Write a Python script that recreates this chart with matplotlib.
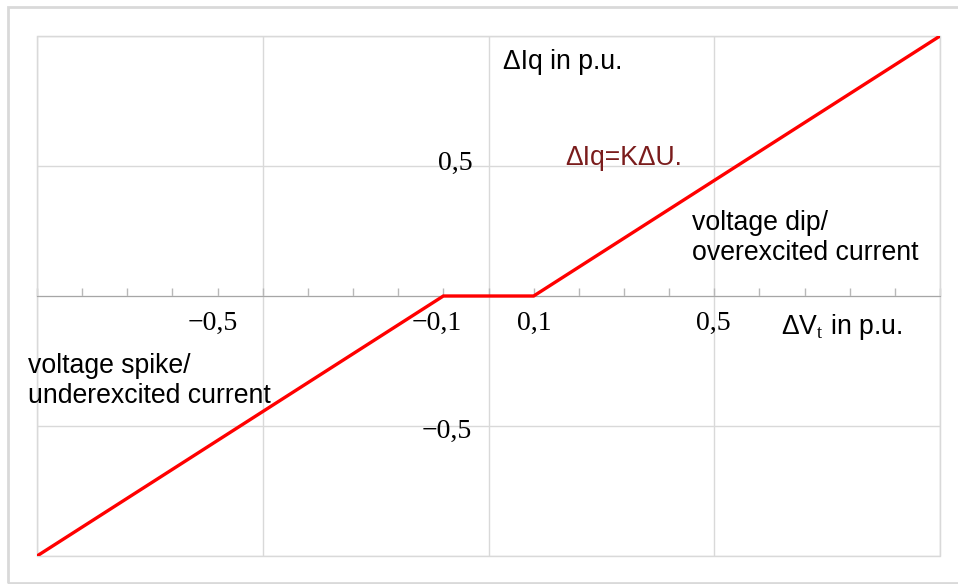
import numpy as np
import matplotlib
matplotlib.use("Agg")
import matplotlib.pyplot as plt
from matplotlib.patches import Rectangle
from matplotlib.ticker import MultipleLocator

# =========================
# data
# =========================
dv = [-1.0, -0.1, 0.1, 1.0]        # delta V_t in p.u.
diq = [-1.0, 0.0, 0.0, 1.0]        # delta Iq in p.u.

x_tick_vals = [-0.5, -0.1, 0.1, 0.5]
x_tick_text = ["\u22120,5", "\u22120,1", "0,1", "0,5"]
y_tick_vals = [0.5, -0.5]
y_tick_text = ["0,5", "\u22120,5"]

plt.rcParams["font.family"] = ["Liberation Sans", "DejaVu Sans"]
plt.rcParams["mathtext.fontset"] = "custom"
plt.rcParams["mathtext.rm"] = "Liberation Serif"

grid_col = "#d9d9d9"
fs = 19.2
fs_num = 20

fig = plt.figure(figsize=(9.58, 5.84), dpi=100)
W, H = 958, 584
ax = fig.add_axes([37 / W, 1 - 556 / H, 903 / W, 520 / H])

# outer frame round the picture
fig.patches.append(Rectangle((8 / W, 1 - 583 / H), 960 / W, 576 / H,
                             transform=fig.transFigure, fill=False,
                             edgecolor=grid_col, linewidth=2))

ax.set_xlim(-1, 1)
ax.set_ylim(-1, 1)

# grid every 0.5
ax.xaxis.set_major_locator(MultipleLocator(0.5))
ax.yaxis.set_major_locator(MultipleLocator(0.5))
ax.xaxis.set_minor_locator(MultipleLocator(0.1))
ax.grid(True, which="major", color=grid_col, linewidth=1)
ax.set_xticklabels([])
ax.set_yticklabels([])
ax.tick_params(axis="y", length=0)
ax.tick_params(axis="x", which="both", direction="in", length=6,
               color="#b8b8b8", width=1)

# horizontal axis through zero, frame for the rest
for s in ["top", "left", "right"]:
    ax.spines[s].set_color(grid_col)
ax.spines["bottom"].set_position(("data", 0))
ax.spines["bottom"].set_color("#a6a6a6")
ax.add_patch(Rectangle((0, 0), 1, 1, transform=ax.transAxes, fill=False,
                       edgecolor=grid_col, linewidth=1, clip_on=False))

# characteristic
ax.plot(dv, diq, color="#ff0000", linewidth=2.4, solid_capstyle="butt",
        solid_joinstyle="miter", zorder=5)

# number labels
x_offsets = [-0.11, -0.014, 0.001, -0.003]
for v, t, o in zip(x_tick_vals, x_tick_text, x_offsets):
    ax.text(v + o, -0.105, t, family="Liberation Serif", fontsize=fs_num,
            ha="center", va="center")
for v, t in zip(y_tick_vals, y_tick_text):
    ax.text(-0.036, v + 0.01 if v > 0 else v - 0.02, t, family="Liberation Serif",
            fontsize=fs_num, ha="right", va="center")

ax.text(0.648, -0.12, "\u0394V$_\\mathrm{t}$ in p.u.", fontsize=fs,
        ha="left", va="center")
ax.text(0.032, 0.9, "\u0394Iq in p.u.", fontsize=fs, ha="left", va="center")
ax.text(0.169, 0.53, "\u0394Iq=K\u0394U.", fontsize=fs, color="#7a1c1c",
        ha="left", va="center")
ax.text(0.45, 0.225, "voltage dip/\noverexcited current",
        fontsize=fs, ha="left", va="center", linespacing=1.2)
ax.text(-1.02, -0.327, "voltage spike/\nunderexcited current", fontsize=fs,
        ha="left", va="center", linespacing=1.2, clip_on=False)

fig.savefig("out.png", dpi=100, facecolor="white")
